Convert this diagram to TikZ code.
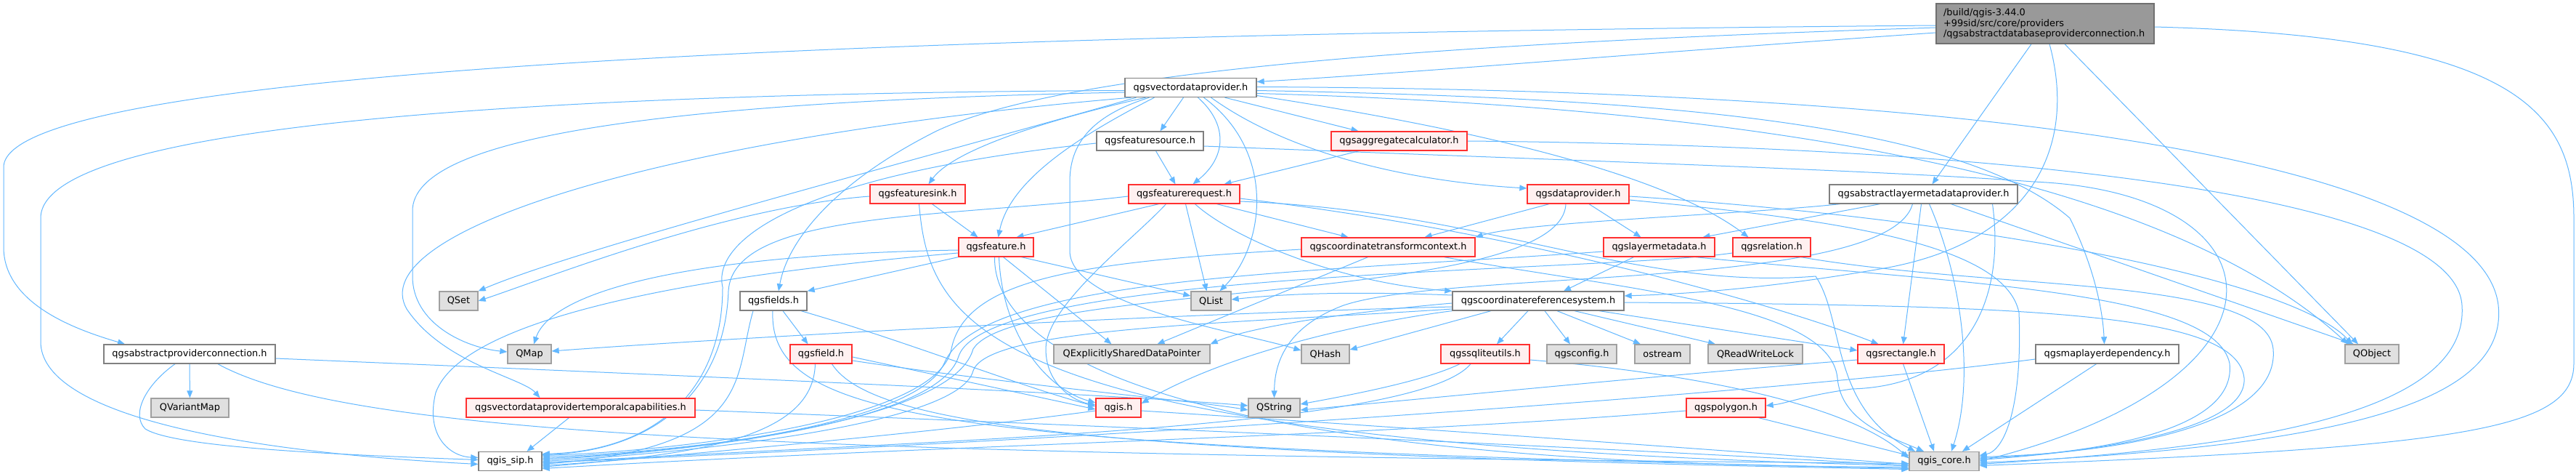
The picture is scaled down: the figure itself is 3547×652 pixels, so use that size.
\documentclass[tikz,border=0pt]{standalone}
\usepackage{fontspec}
\newfontfamily\dvs{DejaVu Sans}
\usetikzlibrary{arrows.meta}
\definecolor{edgec}{HTML}{63B8FF}
\definecolor{wbord}{HTML}{808080}
\definecolor{rbord}{HTML}{FF3030}
\definecolor{rfill}{HTML}{FFF0F0}
\definecolor{gbord}{HTML}{A0A0A0}
\definecolor{gfill}{HTML}{E0E0E0}
\definecolor{mbord}{HTML}{707070}
\definecolor{mfill}{HTML}{999999}
\pgfdeclarelayer{edges}
\pgfsetlayers{edges,main}
\begin{document}
\begin{tikzpicture}[x=1pt,y=-1pt,
  nd/.style={draw, line width=1.3pt, minimum height=26pt, inner sep=0pt, font=\dvs\fontsize{12.9}{14.7}\selectfont},
  wn/.style={nd, draw=wbord, fill=white},
  rn/.style={nd, draw=rbord, fill=rfill},
  gn/.style={nd, draw=gbord, fill=gfill},
  mn/.style={nd, draw=mbord, fill=mfill, minimum height=55pt, minimum width=300pt, text width=280pt, align=left},
  ed/.style={draw=edgec, line width=1pt, -{Triangle[length=10pt,width=8pt]}}]
\useasboundingbox (0,0) rectangle (3547,652);
% nodes
\node[mn] (main) at (2816,32.5) {/build/qgis-3.44.0\\+99sid/src/core/providers\\/qgsabstractdatabaseproviderconnection.h};
\node[wn,minimum width=181pt] (vdp) at (1639.5,120.5) {qgsvectordataprovider.h};
\node[wn,minimum width=147pt] (fsrc) at (1583.5,194) {qgsfeaturesource.h};
\node[rn,minimum width=187pt] (agg) at (1926.5,194) {qgsaggregatecalculator.h};
\node[rn,minimum width=131pt] (fsink) at (1263.5,267) {qgsfeaturesink.h};
\node[rn,minimum width=153pt] (freq) at (1630.5,267) {qgsfeaturerequest.h};
\node[rn,minimum width=140pt] (dp) at (2173,267) {qgsdataprovider.h};
\node[wn,minimum width=259pt] (almp) at (2648.5,267) {qgsabstractlayermetadataprovider.h};
\node[rn,minimum width=103pt] (feat) at (1371.5,340) {qgsfeature.h};
\node[rn,minimum width=239pt] (ctc) at (1911.5,340) {qgscoordinatetransformcontext.h};
\node[rn,minimum width=153pt] (lmd) at (2284.5,340) {qgslayermetadata.h};
\node[rn,minimum width=107pt] (rel) at (2439.5,340) {qgsrelation.h};
\node[gn,minimum width=53pt] (qset) at (631.5,414) {QSet};
\node[wn,minimum width=92pt] (fields) at (1065,414) {qgsfields.h};
\node[gn,minimum width=55pt] (qlist) at (1667.5,414) {QList};
\node[wn,minimum width=236pt] (crs) at (2118,414) {qgscoordinatereferencesystem.h};
\node[wn,minimum width=236pt] (pconn) at (261,487) {qgsabstractproviderconnection.h};
\node[gn,minimum width=60pt] (qmap) at (729,487) {QMap};
\node[rn,minimum width=85pt] (field) at (1130.5,487) {qgsfield.h};
\node[gn,minimum width=215pt] (qesdp) at (1558.5,487) {QExplicitlySharedDataPointer};
\node[gn,minimum width=66pt] (qhash) at (1825,487) {QHash};
\node[rn,minimum width=122pt] (sqlite) at (2045,487) {qgssqliteutils.h};
\node[gn,minimum width=96pt] (config) at (2178,487) {qgsconfig.h};
\node[gn,minimum width=76pt] (ostr) at (2289,487) {ostream};
\node[gn,minimum width=130pt] (qrwl) at (2417,487) {QReadWriteLock};
\node[rn,minimum width=119pt] (rect) at (2617.5,487) {qgsrectangle.h};
\node[wn,minimum width=197pt] (mld) at (2901.5,487) {qgsmaplayerdependency.h};
\node[gn,minimum width=74pt] (qobj) at (3266,487) {QObject};
\node[gn,minimum width=107pt] (qvm) at (261.5,561) {QVariantMap};
\node[rn,minimum width=315pt] (tcap) at (799.5,561) {qgsvectordataprovidertemporalcapabilities.h};
\node[rn,minimum width=62pt] (qgish) at (1540,561) {qgis.h};
\node[gn,minimum width=71pt] (qstr) at (1754.5,561) {QString};
\node[rn,minimum width=109pt] (poly) at (2376.5,561) {qgspolygon.h};
\node[wn,minimum width=87pt] (sip) at (702.5,634.5) {qgis\_sip.h};
\node[gn,minimum width=96pt] (core) at (2677,634.5) {qgis\_core.h};
\begin{pgfonlayer}{edges}
\fill[white] (0,0) rectangle (3547,652);
% main
\draw[ed] ([yshift=-2.5pt]main.west) .. controls (1500,45) and (5,80) .. (5,230) -- (5,340) .. controls (5,420) and (110,455) .. ([xshift=-89pt]pconn.north);
\draw[ed] ([yshift=-5.5pt]main.west) .. controls (1900,62) and (1450,105) .. (1290,180) .. controls (1150,250) and (1085,330) .. ([xshift=7pt]fields.north);
\draw[ed] ([yshift=-12.5pt]main.west) .. controls (2300,70) and (1950,100) .. ([yshift=8pt]vdp.east);
\draw[ed] ([xshift=-19pt]main.south) -- ([xshift=12pt]almp.north);
\draw[ed] ([xshift=6pt]main.south) .. controls (2860,200) and (2800,330) .. (2600,368) .. controls (2420,400) and (2300,405) .. ([yshift=7pt]crs.east);
\draw[ed] ([xshift=27pt]main.south) -- ([xshift=-19pt]qobj.north);
\draw[ed] ([yshift=-4.5pt]main.east) .. controls (3460,50) and (3544,150) .. (3544,300) -- (3544,500) .. controls (3544,590) and (3400,615) .. ([yshift=-6pt]core.east);
% provider connection
\draw[ed] ([xshift=-20pt]pconn.south) .. controls (200,530) and (180,570) .. (200,590) .. controls (240,615) and (450,625) .. ([yshift=2pt]sip.west);
\draw[ed] (pconn) -- (qvm);
\draw[ed] ([xshift=39pt]pconn.south) .. controls (480,600) and (1100,625) .. ([yshift=-3pt]core.west);
\draw[ed] ([yshift=-6pt]pconn.east) .. controls (900,515) and (1500,540) .. ([yshift=3pt]qstr.west);
% vector data provider
\draw[ed] ([yshift=-4pt]vdp.west) .. controls (800,128) and (56,165) .. (56,300) -- (56,470) .. controls (56,565) and (300,620) .. ([yshift=-4pt]sip.west);
\draw[ed] ([yshift=-6.5pt]vdp.west) .. controls (900,140) and (568,190) .. (568,290) -- (568,380) .. controls (568,445) and (640,478) .. ([yshift=3pt]qmap.west);
\draw[ed] ([xshift=-75pt]vdp.south) .. controls (1300,210) and (800,340) .. (qset.north east);
\draw[ed] ([xshift=-82pt]vdp.south) .. controls (900,190) and (500,320) .. (560,425) .. controls (610,500) and (720,520) .. ([xshift=-56pt]tcap.north);
\draw[ed] ([xshift=-62pt]vdp.south) .. controls (1420,170) and (1310,210) .. ([xshift=15pt]fsink.north);
\draw[ed] ([xshift=-50pt]vdp.south) .. controls (1480,190) and (1390,250) .. ([xshift=3pt]feat.north);
\draw[ed] ([xshift=-10pt]vdp.south) -- ([xshift=14pt]fsrc.north);
\draw[ed] ([xshift=10pt]vdp.south) .. controls (1690,170) and (1690,215) .. ([xshift=12pt]freq.north);
\draw[ed] ([xshift=18pt]vdp.south) .. controls (1760,210) and (1740,340) .. ([xshift=12pt]qlist.north);
\draw[ed] ([xshift=-57pt]vdp.south) .. controls (1500,160) and (1473,200) .. (1473,250) -- (1473,345) .. controls (1473,420) and (1700,455) .. ([yshift=5pt]qhash.west);
\draw[ed] ([xshift=47pt]vdp.south) -- ([xshift=-56pt]agg.north);
\draw[ed] ([yshift=-11pt]vdp.east) .. controls (1980,170) and (2280,230) .. ([xshift=-32pt]rel.north);
\draw[ed] ([xshift=28pt]vdp.south) .. controls (1780,215) and (1950,250) .. ([yshift=8pt]dp.west);
\draw[ed] ([yshift=-4pt]vdp.east) .. controls (2300,135) and (2700,170) .. (2850,300) .. controls (2880,360) and (2895,420) .. ([xshift=-4pt]mld.north);
\draw[ed] ([yshift=1pt]vdp.east) .. controls (2900,125) and (3420,250) .. (3440,420) .. controls (3455,560) and (3200,615) .. ([yshift=-2pt]core.east);
\draw[ed] ([yshift=-8pt]vdp.east) .. controls (2500,150) and (3000,260) .. ([xshift=-33pt]qobj.north);
% feature source
\draw[ed] ([xshift=8pt]fsrc.south) -- ([xshift=-12pt]freq.north);
\draw[ed] ([yshift=-7pt]fsrc.east) .. controls (2200,222) and (2600,235) .. (2800,250) .. controls (3150,265) and (3180,520) .. ([yshift=0pt]core.east);
\draw[ed] ([yshift=-3pt]fsrc.west) .. controls (1100,240) and (980,330) .. (995,395) .. controls (995,540) and (900,620) .. ([yshift=10pt]sip.east);
% feature sink
\draw[ed] ([xshift=20pt]fsink.south) -- ([xshift=-25pt]feat.north);
\draw[ed] ([xshift=2pt]fsink.south) .. controls (1280,450) and (1350,610) .. ([yshift=-6pt]core.west);
\draw[ed] ([yshift=-3pt]fsink.west) .. controls (1000,285) and (760,380) .. (qset.east);
% feature request
\draw[ed] ([xshift=-35pt]freq.south) -- ([xshift=28pt]feat.north);
\draw[ed] ([xshift=2pt]freq.south) -- ([xshift=-6pt]qlist.north);
\draw[ed] ([xshift=15pt]freq.south) .. controls (1700,330) and (1850,390) .. (crs.north west);
\draw[ed] ([xshift=45pt]freq.south) -- ([xshift=-55pt]ctc.north);
\draw[ed] ([yshift=-6pt]freq.east) .. controls (2100,320) and (2450,420) .. ([xshift=-31pt]rect.north);
\draw[ed] ([xshift=-25pt]freq.south) .. controls (1560,330) and (1440,420) .. (1440,480) .. controls (1440,530) and (1480,552) .. ([yshift=4pt]qgish.west);
\draw[ed] ([yshift=-3pt]freq.west) .. controls (1300,300) and (1010,290) .. (1003,400) .. controls (998,540) and (900,620) .. ([yshift=9pt]sip.east);
\draw[ed] ([yshift=-10pt]freq.east) .. controls (2050,290) and (2250,400) .. (2500,380) .. controls (2540,440) and (2520,560) .. ([xshift=-40pt]core.north);
% feature
\draw[ed] (feat.south west) -- (fields.north east);
\draw[ed] ([xshift=35pt]feat.south) -- ([yshift=7pt]qlist.west);
\draw[ed] ([xshift=10pt]feat.south) -- ([xshift=-28pt]qesdp.north);
\draw[ed] ([yshift=-4pt]feat.west) .. controls (950,350) and (760,400) .. ([xshift=6pt]qmap.north);
\draw[ed] ([yshift=-8pt]feat.west) .. controls (1000,375) and (640,430) .. (600,540) .. controls (585,600) and (620,628) .. ([yshift=5pt]sip.west);
\draw[ed] ([xshift=-2pt]feat.south) .. controls (1368,480) and (1600,640) .. ([yshift=-8pt]core.west);
\draw[ed] ([xshift=4pt]feat.south) .. controls (1380,460) and (1440,535) .. ([yshift=7pt]qgish.west);
% fields
\draw[ed] ([xshift=13pt]fields.south) -- ([xshift=-18pt]field.north);
\draw[ed] ([xshift=-28pt]fields.south) .. controls (1010,520) and (1040,615) .. ([yshift=-4pt]sip.east);
\draw[ed] ([xshift=-1pt]fields.south) .. controls (1058,580) and (1300,615) .. ([yshift=-10pt]core.west);
\draw[ed] ([xshift=38pt]fields.south) .. controls (1250,470) and (1400,530) .. ([yshift=2pt]qgish.west);
% field
\draw[ed] ([xshift=-8pt]field.south) .. controls (1120,590) and (1000,625) .. ([yshift=-6pt]sip.east);
\draw[ed] ([yshift=-4pt]field.east) -- ([yshift=-2pt]qgish.west);
\draw[ed] ([yshift=-9pt]field.east) .. controls (1400,530) and (1650,552) .. ([yshift=-3pt]qstr.west);
\draw[ed] ([xshift=15pt]field.south) .. controls (1200,585) and (1500,625) .. ([yshift=-11pt]core.west);
% qgis.h
\draw[ed] ([yshift=-4pt]qgish.west) .. controls (1250,600) and (900,628) .. ([yshift=-8pt]sip.east);
\draw[ed] ([yshift=-4pt]qgish.east) .. controls (2000,592) and (2400,622) .. ([yshift=-4pt]core.west);
% coordinate transform context
\draw[ed] ([xshift=-28pt]ctc.south) -- ([xshift=35pt]qesdp.north);
\draw[ed] ([yshift=-3pt]ctc.west) .. controls (1500,360) and (1330,380) .. (1310,480) .. controls (1290,585) and (900,622) .. ([yshift=8pt]sip.east);
\draw[ed] ([xshift=77pt]ctc.south) .. controls (2250,400) and (2520,420) .. (2530,520) .. controls (2535,580) and (2600,600) .. ([xshift=-28pt]core.north);
% data provider
\draw[ed] ([xshift=-40pt]dp.south) -- ([xshift=50pt]ctc.north);
\draw[ed] ([xshift=15pt]dp.south) -- ([xshift=-25pt]lmd.north);
\draw[ed] ([xshift=-17pt]dp.south) .. controls (2150,420) and (1400,385) .. (1340,480) .. controls (1310,588) and (900,624) .. ([yshift=6pt]sip.east);
\draw[ed] ([yshift=-3pt]dp.east) .. controls (2700,300) and (3150,380) .. ([xshift=-27pt]qobj.north);
\draw[ed] ([yshift=-8pt]dp.east) .. controls (2500,300) and (2760,330) .. (2780,430) .. controls (2785,560) and (2760,620) .. ([yshift=8pt]core.east);
% layer metadata
\draw[ed] ([xshift=-35pt]lmd.south) -- ([xshift=35pt]crs.north);
\draw[ed] ([yshift=-6pt]lmd.west) .. controls (1800,375) and (1350,380) .. (1300,500) .. controls (1260,590) and (900,625) .. ([yshift=4pt]sip.east);
\draw[ed] ([xshift=50pt]lmd.south) .. controls (2700,390) and (3050,400) .. (3070,500) .. controls (3080,590) and (2900,622) .. ([yshift=4pt]core.east);
% relation
\draw[ed] ([yshift=-8pt]rel.west) .. controls (2200,375) and (1360,370) .. (1320,490) .. controls (1290,590) and (900,624) .. ([yshift=2pt]sip.east);
\draw[ed] ([xshift=40pt]rel.south) .. controls (2750,400) and (3120,380) .. (3130,480) .. controls (3140,590) and (2900,624) .. ([yshift=6pt]core.east);
% aggregate calculator
\draw[ed] ([xshift=-55pt]agg.south) -- ([xshift=55pt]freq.north);
\draw[ed] (agg.east) .. controls (2700,200) and (3380,260) .. (3390,420) .. controls (3400,570) and (3100,615) .. ([yshift=-4pt]core.east);
% abstract layer metadata provider
\draw[ed] ([xshift=-115pt]almp.south) .. controls (2400,295) and (2100,305) .. (ctc.north east);
\draw[ed] ([xshift=-60pt]almp.south) -- ([xshift=60pt]lmd.north);
\draw[ed] ([xshift=-3pt]almp.south) -- ([xshift=3pt]rect.north);
\draw[ed] ([xshift=8pt]almp.south) .. controls (2700,380) and (2720,520) .. ([xshift=10pt]core.north);
\draw[ed] ([xshift=38pt]almp.south) -- ([xshift=-25pt]qobj.north);
\draw[ed] ([xshift=95pt]almp.south) .. controls (2760,400) and (2720,530) .. (2550,535) .. controls (2480,545) and (2460,555) .. ([yshift=3pt]poly.east);
\draw[ed] ([xshift=-15pt]almp.south) .. controls (2600,400) and (2000,370) .. (1850,420) .. controls (1770,450) and (1755,500) .. (qstr.north);
% coordinate reference system
\draw[ed] ([xshift=-14pt]crs.south) -- ([xshift=16pt]sqlite.north);
\draw[ed] ([xshift=9pt]crs.south) -- ([xshift=-16pt]config.north);
\draw[ed] ([xshift=26pt]crs.south) -- ([xshift=-30pt]ostr.north);
\draw[ed] ([xshift=50pt]crs.south) -- ([xshift=-55pt]qrwl.north);
\draw[ed] ([xshift=84pt]crs.south) -- ([yshift=5pt]rect.west);
\draw[ed] ([xshift=-65pt]crs.south) -- ([yshift=6pt]qhash.east);
\draw[ed] ([yshift=-3pt]crs.west) .. controls (1850,430) and (1720,450) .. (qesdp.north east);
\draw[ed] ([yshift=-8pt]crs.west) .. controls (1600,432) and (1000,465) .. ([yshift=4pt]qmap.east);
\draw[ed] ([yshift=8pt]crs.west) .. controls (1850,400) and (1760,405) .. ([yshift=2pt]qlist.east);
\draw[ed] (crs.south west) .. controls (1900,440) and (1700,480) .. ([yshift=6pt]qgish.east);
\draw[ed] ([yshift=-11pt]crs.west) .. controls (1700,445) and (1360,450) .. (1340,510) .. controls (1320,590) and (900,626) .. ([yshift=0pt]sip.east);
\draw[ed] ([yshift=-2pt]crs.east) .. controls (2800,420) and (3080,430) .. (3090,520) .. controls (3095,590) and (2900,620) .. ([yshift=2pt]core.east);
% sqlite utils
\draw[ed] ([xshift=-35pt]sqlite.south) .. controls (1960,525) and (1850,545) .. ([yshift=5pt]qstr.east);
\draw[ed] ([xshift=-20pt]sqlite.south) .. controls (1950,590) and (1300,605) .. ([yshift=-2pt]sip.east);
\draw[ed] ([yshift=-8pt]sqlite.east) .. controls (2350,515) and (2550,560) .. ([yshift=4pt]core.west);
% rectangle
\draw[ed] ([yshift=-8pt]rect.west) .. controls (2300,515) and (2000,545) .. ([yshift=-3pt]qstr.east);
\draw[ed] ([xshift=3pt]rect.south) -- ([xshift=-14pt]core.north);
% polygon
\draw[ed] ([yshift=-4pt]poly.west) .. controls (1900,600) and (1300,612) .. ([yshift=-10pt]sip.east);
\draw[ed] ([xshift=45pt]poly.south) -- ([yshift=8pt]core.west);
% map layer dependency
\draw[ed] ([xshift=-15pt]mld.south) -- ([xshift=25pt]core.north);
\draw[ed] ([yshift=-7pt]mld.west) .. controls (2450,540) and (1600,600) .. ([yshift=-2pt]sip.east);
% temporal capabilities
\draw[ed] ([xshift=-16pt]tcap.south) -- ([xshift=23pt]sip.north);
\draw[ed] ([yshift=-3pt]tcap.east) .. controls (1500,585) and (2200,615) .. ([yshift=-6pt]core.west);
\end{pgfonlayer}
\end{tikzpicture}
\end{document}
